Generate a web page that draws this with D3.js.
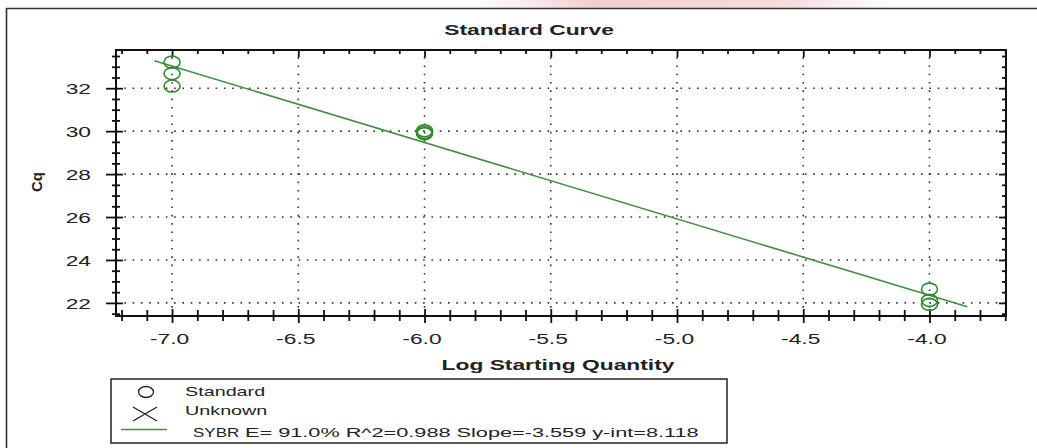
<!DOCTYPE html>
<html>
<head>
<meta charset="utf-8">
<script src="https://cdn.jsdelivr.net/npm/d3@7"></script>
<style>
  body { margin: 0; background: #fff; }
  svg { display: block; }
  text { font-family: "Liberation Sans", Arial, sans-serif; fill: #222; }
</style>
</head>
<body>
<svg id="chart" width="1037" height="448"></svg>
<script>
// Standard curve replicates: log starting quantity vs. Cq
const logQty   = [-7, -7, -7, -6, -6, -6, -4, -4, -4];
const cqValues = [33.22, 32.68, 32.10, 30.02, 29.94, 29.88, 22.64, 22.12, 21.93];

// Axis ticks and extents
const xTickValues = [-7.0, -6.5, -6.0, -5.5, -5.0, -4.5, -4.0];
const yTickValues = [22, 24, 26, 28, 30, 32];
const xDomain = [-7.222, -3.697];
const yDomain = [21.39, 33.78];

// Linear fit reported for the SYBR run
const fitSlope = -3.559;
const fitIntercept = 8.118;
const fitEfficiency = 91.0;
const fitR2 = 0.988;
const fitRange = [-7.07, -3.85];

// Legend entries
const legendLabels = ["Standard", "Unknown", "SYBR"];

const svg = d3.select("#chart");
const W = 1037, H = 448;
const plot = { left: 116, right: 1006, top: 50, bottom: 316 };
const SX = 1.52;              // horizontal text stretch
const green = "#2f8a2f";

// faint page background tint above the frame
const tint = svg.append("linearGradient").attr("id", "tint").attr("x1", 0).attr("x2", 1);
tint.append("stop").attr("offset", "0").attr("stop-color", "#f6dede").attr("stop-opacity", 0);
tint.append("stop").attr("offset", "0.3").attr("stop-color", "#f2c9c9").attr("stop-opacity", 0.9);
tint.append("stop").attr("offset", "0.75").attr("stop-color", "#f4d3d3").attr("stop-opacity", 0.8);
tint.append("stop").attr("offset", "1").attr("stop-color", "#f6dede").attr("stop-opacity", 0);
svg.append("rect").attr("x", 460).attr("y", 0).attr("width", 440).attr("height", 8).attr("fill", "url(#tint)");

// outer frame
svg.append("path")
  .attr("d", `M6.5,${H} L6.5,8.5 L${W},8.5`)
  .attr("fill", "none").attr("stroke", "#333").attr("stroke-width", 1.6);

const x = d3.scaleLinear().domain(xDomain).range([plot.left, plot.right]);
const y = d3.scaleLinear().domain(yDomain).range([plot.bottom, plot.top]);

// dotted grid
const grid = svg.append("g").attr("stroke", "#333").attr("stroke-width", 1.6)
  .attr("stroke-dasharray", "1.6,6.7");
grid.selectAll("line.v").data(xTickValues).join("line")
  .attr("x1", d => x(d)).attr("x2", d => x(d))
  .attr("y1", plot.bottom).attr("y2", plot.top);
grid.selectAll("line.h").data(yTickValues).join("line")
  .attr("x1", plot.left).attr("x2", plot.right)
  .attr("y1", d => y(d)).attr("y2", d => y(d));

// plot frame
svg.append("rect")
  .attr("x", plot.left).attr("y", plot.top)
  .attr("width", plot.right - plot.left).attr("height", plot.bottom - plot.top)
  .attr("fill", "none").attr("stroke", "#111").attr("stroke-width", 2);

const xMinor = x.ticks(35).filter(v => !xTickValues.some(t => Math.abs(t - v) < 1e-6));
const yMinor = y.ticks(25).filter(v => !yTickValues.some(t => Math.abs(t - v) < 1e-6));

function tickOnly(g) {
  g.select(".domain").remove();
  g.selectAll("line").attr("stroke", "#111").attr("stroke-width", 1.8);
}

// bottom axis: ticks crossing the axis line, labels below
svg.append("g").attr("transform", `translate(0,${plot.bottom - 6})`)
  .call(d3.axisBottom(x).tickValues(xMinor).tickSize(11).tickFormat(""))
  .call(tickOnly);
const xAxisG = svg.append("g").attr("transform", `translate(0,${plot.bottom - 7})`)
  .call(d3.axisBottom(x).tickValues(xTickValues).tickSize(14).tickPadding(10).tickFormat(d => d.toFixed(1)))
  .call(tickOnly);
xAxisG.selectAll("text")
  .attr("font-size", 15).attr("fill", "#222").attr("font-family", null)
  .attr("x", -2)
  .attr("transform", `scale(${SX},1)`);

// top axis: inward ticks
svg.append("g").attr("transform", `translate(0,${plot.top})`)
  .call(d3.axisBottom(x).tickValues(xMinor).tickSize(4).tickFormat(""))
  .call(tickOnly);
svg.append("g").attr("transform", `translate(0,${plot.top})`)
  .call(d3.axisBottom(x).tickValues(xTickValues).tickSize(7).tickFormat(""))
  .call(tickOnly);

// left axis: ticks crossing the axis line, labels to the left
svg.append("g").attr("transform", `translate(${plot.left + 4},0)`)
  .call(d3.axisLeft(y).tickValues(yMinor).tickSize(8).tickFormat(""))
  .call(tickOnly);
const yAxisG = svg.append("g").attr("transform", `translate(${plot.left + 7},0)`)
  .call(d3.axisLeft(y).tickValues(yTickValues).tickSize(17).tickPadding(5).tickFormat(d => String(d)))
  .call(tickOnly);
yAxisG.selectAll("text")
  .attr("font-size", 15).attr("fill", "#222").attr("font-family", null)
  .attr("transform", `scale(${SX},1)`)
  .attr("x", -(17 + 5 + 10) / SX)
  .attr("dy", "0.36em");

// right axis: inward ticks
svg.append("g").attr("transform", `translate(${plot.right},0)`)
  .call(d3.axisLeft(y).tickValues(yMinor).tickSize(4).tickFormat(""))
  .call(tickOnly);
svg.append("g").attr("transform", `translate(${plot.right},0)`)
  .call(d3.axisLeft(y).tickValues(yTickValues).tickSize(7).tickFormat(""))
  .call(tickOnly);

// fit line
const fitLine = d3.line().x(d => x(d)).y(d => y(fitSlope * d + fitIntercept));
svg.append("path").datum(fitRange)
  .attr("d", fitLine)
  .attr("fill", "none").attr("stroke", "#3f8f3f").attr("stroke-width", 1.6);

// replicate markers
svg.append("g").selectAll("ellipse")
  .data(logQty.map((q, i) => ({ q, cq: cqValues[i] })))
  .join("ellipse")
  .attr("cx", d => x(d.q)).attr("cy", d => y(d.cq))
  .attr("rx", 8).attr("ry", 6)
  .attr("fill", "none").attr("stroke", green).attr("stroke-width", 1.6);

// stretched label helper
function label(xp, yp, str, opts = {}) {
  const g = svg.append("g").attr("transform", `translate(${xp},${yp}) scale(${opts.sx || SX},1)`);
  return g.append("text")
    .attr("text-anchor", opts.anchor || "start")
    .attr("font-size", opts.size || 15)
    .attr("font-weight", opts.bold ? "bold" : "normal")
    .text(str);
}

label(529, 35, "Standard Curve", { anchor: "middle", bold: true, size: 15 });
label(558, 370, "Log Starting Quantity", { anchor: "middle", bold: true, size: 15 });

svg.append("text")
  .attr("transform", "translate(42,182) rotate(-90)")
  .attr("text-anchor", "middle")
  .attr("font-size", 15).attr("font-weight", "bold")
  .text("Cq");

// legend
const lg = { x: 111, y: 379, w: 616, h: 64 };
svg.append("rect").attr("x", lg.x).attr("y", lg.y).attr("width", lg.w).attr("height", lg.h)
  .attr("fill", "#fff").attr("stroke", "#222").attr("stroke-width", 1.5);

svg.append("ellipse").attr("cx", 146).attr("cy", 392).attr("rx", 7.5).attr("ry", 5.5)
  .attr("fill", "none").attr("stroke", "#222").attr("stroke-width", 1.3);
svg.append("path").attr("d", "M133,407 L157,421 M133,421 L157,407")
  .attr("stroke", "#222").attr("stroke-width", 1.3);
svg.append("line").attr("x1", 121).attr("x2", 167).attr("y1", 429.5).attr("y2", 429.5)
  .attr("stroke", "#3f8f3f").attr("stroke-width", 1.6);

label(185, 396, legendLabels[0], { size: 13 });
label(185, 415, legendLabels[1], { size: 13 });
label(193, 437, legendLabels[2], { size: 12, sx: 1.42 });
const stats = `E= ${fitEfficiency.toFixed(1)}% R^2=${fitR2.toFixed(3)} Slope=${fitSlope.toFixed(3)} y-int=${fitIntercept.toFixed(3)}`;
const statsText = label(245, 437, stats, { size: 13 });
// fit the statistics line to the legend width
const len = statsText.node().getComputedTextLength();
statsText.node().parentNode.setAttribute("transform", `translate(245,437) scale(${454 / len},1)`);
</script>
</body>
</html>
